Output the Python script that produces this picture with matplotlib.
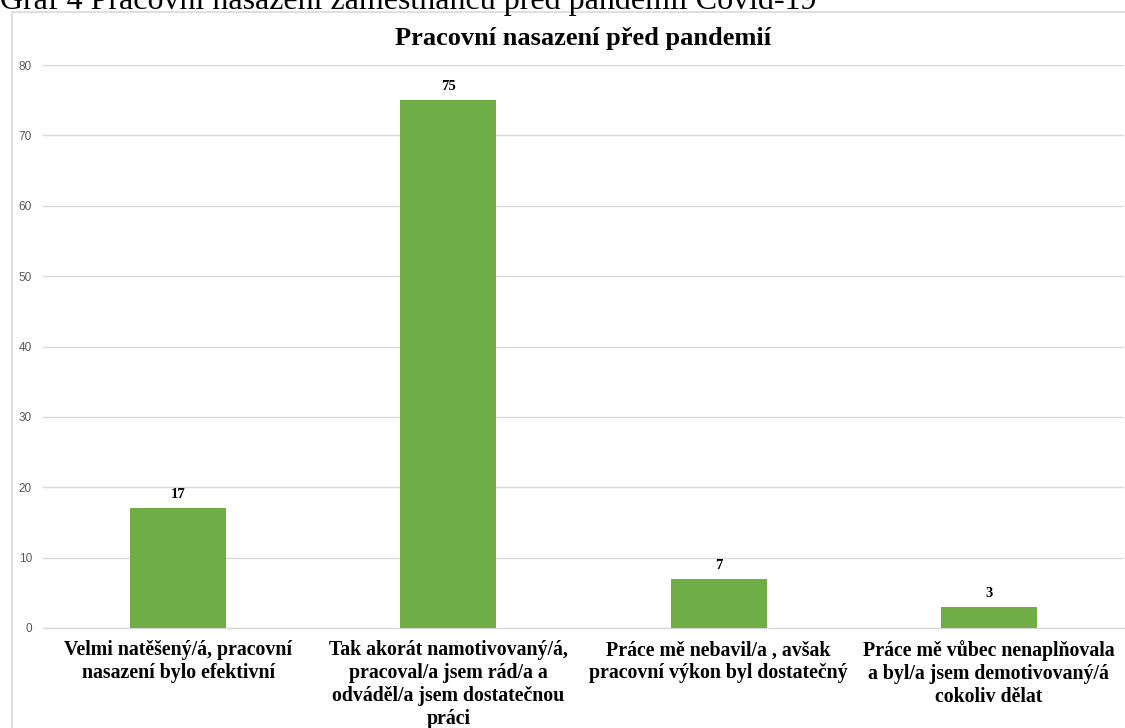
import matplotlib.pyplot as plt
from matplotlib.patches import Rectangle

categories = [
    'Velmi natěšený/á, pracovní\nnasazení bylo efektivní',
    'Tak akorát namotivovaný/á,\npracoval/a jsem rád/a a\nodváděl/a jsem dostatečnou\npráci',
    'Práce mě nebavil/a , avšak\npracovní výkon byl dostatečný',
    'Práce mě vůbec nenaplňovala\na byl/a jsem demotivovaný/á\ncokoliv dělat',
]
values = [17, 75, 7, 3]
yticks = [0, 10, 20, 30, 40, 50, 60, 70, 80]

W, H = 1125, 728
fig = plt.figure(figsize=(W / 100, H / 100), dpi=100)

# axes box in pixels: left 43, right 1124, y0 at 628, y80 at 65
left, right, bottom, top = 43, 1124, 628, 65
ax = fig.add_axes([left / W, 1 - bottom / H, (right - left) / W, (bottom - top) / H])

x = range(len(values))
bars = ax.bar(x, values, width=0.355, color='#70AD47', zorder=3)
ax.set_xlim(-0.5, len(values) - 0.5)
ax.set_ylim(0, 80)
ax.set_yticks(yticks)
ax.set_yticklabels([str(t) for t in yticks], fontsize=8.5, color='#595959',
                   family='Liberation Sans')
ax.tick_params(axis='y', length=0, pad=8)
ax.tick_params(axis='x', length=0)
ax.set_xticks([])
ax.grid(axis='y', color='#D9D9D9', linewidth=1, zorder=0)
for s in ['top', 'right', 'left']:
    ax.spines[s].set_visible(False)
ax.spines['bottom'].set_color('#D9D9D9')
ax.spines['bottom'].set_linewidth(1)

for i, v in enumerate(values):
    ax.annotate(str(v), (i, v), xytext=(0, 5), textcoords='offset points',
                ha='center', va='bottom', fontsize=10.5, fontweight='bold',
                family='Liberation Serif')

for i, c in enumerate(categories):
    ax.annotate(c, (i, 0), xytext=(0, -9), textcoords='offset points',
                ha='center', va='top', fontsize=14.3, fontweight='bold',
                family='Liberation Serif', linespacing=1.18)

fig.text(583.5 / W, 1 - 38 / H, 'Pracovní nasazení před pandemií', ha='center',
         va='center', fontsize=19, fontweight='bold', family='Liberation Serif')

# chart frame, cut off at right and bottom
fig.patches.append(Rectangle((12 / W, -0.1), 1.2, 1 - 12 / H + 0.1,
                             transform=fig.transFigure, fill=False,
                             edgecolor='#D9D9D9', linewidth=1.2))

# caption cut at the top of the image
fig.text(0, 1 - 9 / H, 'Graf 4 Pracovní nasazení zaměstnanců před pandemií Covid-19',
         ha='left', va='baseline', fontsize=23, family='Liberation Serif')

fig.savefig('out.png', dpi=100)
